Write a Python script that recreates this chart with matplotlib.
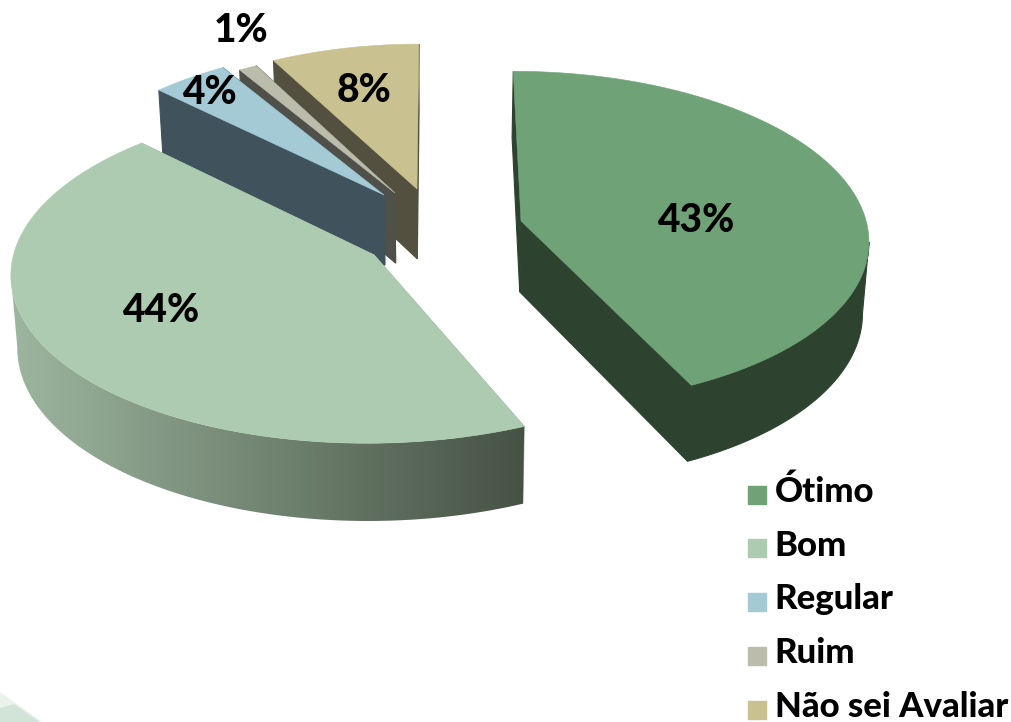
import numpy as np
import matplotlib
matplotlib.use("Agg")
import matplotlib.pyplot as plt
from matplotlib.lines import Line2D
from matplotlib.markers import MarkerStyle
from matplotlib.patches import Polygon
from matplotlib.transforms import Affine2D
from matplotlib.colors import LinearSegmentedColormap

categories = ["Ótimo", "Bom", "Regular", "Ruim", "Não sei Avaliar"]
values = [43, 44, 4, 1, 8]
labels = ["43%", "44%", "4%", "1%", "8%"]

top_colors = ["#70a278", "#adcbb0", "#a4cad6", "#bcbcac", "#c9c190"]
wall_colors = ["#2d4330", "#9db69f", "#40525b", "#50504a", "#545040"]
wall_gradient = {1: ("#9db69f", "#465244")}

# layout of the exploded slices
apex = [(521, 221), (374, 255), (384, 195), (395, 193), (417, 189)]
radii = [346, 354, 342, 327, 335]
squash = [1.03, 0.99, 1.07, 1.08, 1.07]
rotation = [0, 2, 0, 0, 0]
label_xy = [(696, 221), (161, 310), (209, 92), (241, 31), (364, 90)]
CX, CY, TILT, PERSP, R0 = 437, 225, 0.465, 0.10, 350
F_LABEL, F_LEGEND = 28, 25

plt.rcParams["font.family"] = ["Lato", "DejaVu Sans"]
fig = plt.figure(figsize=(10.11, 7.22), dpi=100)
ax = fig.add_axes([0, 0, 1, 1])
ax.axis("off")


def project(px, py):
    f = 1 / (1 + PERSP * py / R0)
    return CX + px * f, CY - TILT * py * f


def unproject(x, y):
    q = (CY - y) / TILT
    py = q / (1 - PERSP * q / R0)
    f = 1 / (1 + PERSP * py / R0)
    return (x - CX) / f, py


def drop(x, y):
    return CX + (x - CX) * 0.985, y + 71 + 0.031 * (y - CY)


fractions = np.array(values, float) / sum(values)
edges = np.concatenate([[0], np.cumsum(fractions)]) * 2 * np.pi

# watermark in the corner
ax.fill([0, 0, 42], [692, 722, 722], color="#eaf2ec", lw=0, zorder=0)
ax.fill([0, 14, 40, 0], [708, 704, 722, 722], color="#d2e4d8", lw=0, zorder=0)

order = [4, 3, 2, 0, 1]
z = 2
for i in order:
    rot = np.deg2rad(rotation[i])
    th = np.linspace(edges[i] + rot, edges[i + 1] + rot, 200)
    ox, oy = unproject(*apex[i])
    R = radii[i]
    xs, ys = project(ox + R * np.sin(th), oy + R * squash[i] * np.cos(th))
    ax0, ay0 = apex[i]
    bxs, bys = drop(xs, ys)
    bax, bay = drop(ax0, ay0)
    wall = wall_colors[i]
    # two radial faces
    for ex, ey, ebx, eby in ((xs[0], ys[0], bxs[0], bys[0]), (xs[-1], ys[-1], bxs[-1], bys[-1])):
        ax.fill([ax0, ex, ebx, bax], [ay0, ey, eby, bay], facecolor=wall, edgecolor=wall, lw=0.8, zorder=z)
    # outer curved wall: only the front part, between the silhouette points
    if np.cos(th).min() < 0:
        hi, lo = int(np.argmax(xs)), int(np.argmin(xs))
        a = hi if 0 < hi < len(xs) - 1 else 0
        b = lo if 0 < lo < len(xs) - 1 else len(xs) - 1
        band = np.column_stack([np.concatenate([xs[a:b + 1], bxs[a:b + 1][::-1]]),
                                np.concatenate([ys[a:b + 1], bys[a:b + 1][::-1]])])
        if i in wall_gradient:
            patch = Polygon(band, closed=True, facecolor="none", edgecolor="none", zorder=z)
            ax.add_patch(patch)
            cmap = LinearSegmentedColormap.from_list("wall", wall_gradient[i])
            im = ax.imshow(np.linspace(0, 1, 512)[None, :], cmap=cmap, aspect="auto",
                           extent=(band[:, 0].min(), band[:, 0].max(), band[:, 1].max(), band[:, 1].min()),
                           zorder=z, interpolation="bilinear")
            im.set_clip_path(patch)
        else:
            ax.add_patch(Polygon(band, closed=True, facecolor=wall, edgecolor=wall, lw=0.8, zorder=z))
    ax.fill(np.r_[ax0, xs], np.r_[ay0, ys], facecolor=top_colors[i], edgecolor=top_colors[i], lw=0.4, zorder=z + 0.5)
    z += 1

ax.set_xlim(0, 1011)
ax.set_ylim(722, 0)

for s, (x, y) in zip(labels, label_xy):
    ax.text(x, y, s, ha="center", va="center", fontsize=F_LABEL, fontweight=900, color="black", zorder=20)

square = MarkerStyle("s", transform=Affine2D().translate(0, -0.28))
handles = [Line2D([], [], ls="", marker=square, ms=13, mfc=c, mec=c) for c in top_colors]
ax.legend(handles, categories, loc="lower left", bbox_to_anchor=(740 / 1011, -0.001), frameon=False,
          prop={"size": F_LEGEND, "weight": 900}, labelspacing=0.625, handlelength=1.0,
          handletextpad=0.0, borderpad=0, borderaxespad=0)

fig.savefig("out.png", dpi=100)
